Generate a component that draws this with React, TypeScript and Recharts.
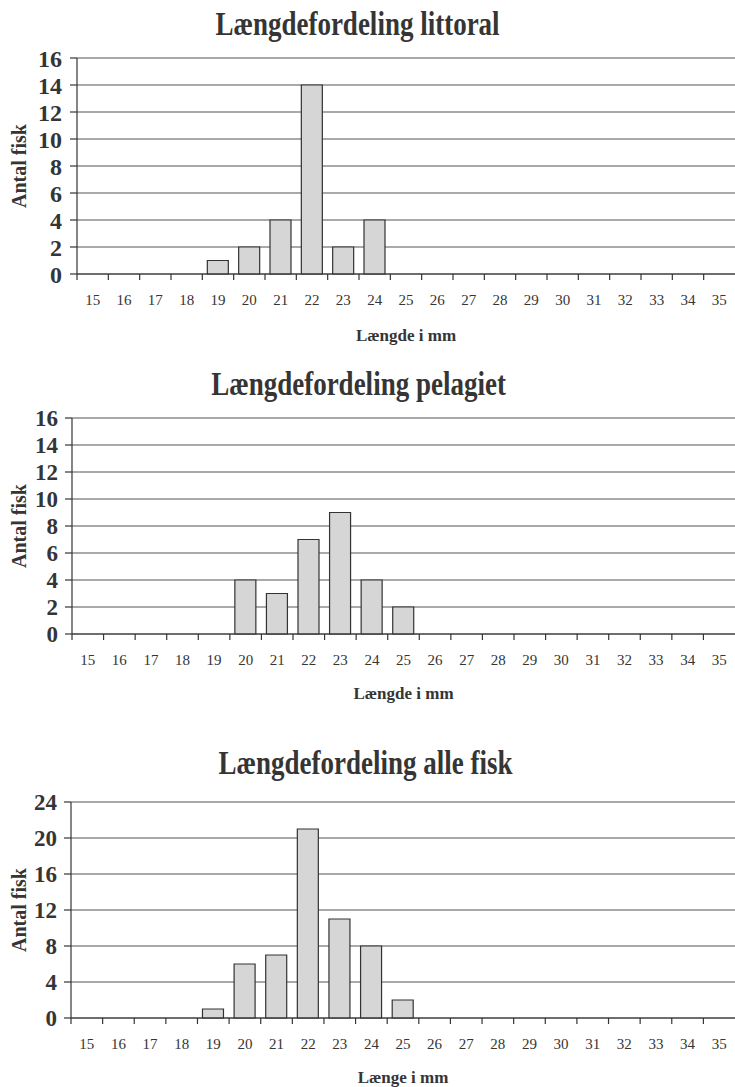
import React from 'react';
import { BarChart, Bar, XAxis, YAxis, CartesianGrid } from 'recharts';

const LENGTHS = ['15', '16', '17', '18', '19', '20', '21', '22', '23', '24', '25', '26', '27', '28', '29', '30', '31', '32', '33', '34', '35'];
const LITTORAL = [0, 0, 0, 0, 1, 2, 4, 14, 2, 4, 0, 0, 0, 0, 0, 0, 0, 0, 0, 0, 0];
const PELAGIET = [0, 0, 0, 0, 0, 4, 3, 7, 9, 4, 2, 0, 0, 0, 0, 0, 0, 0, 0, 0, 0];
const ALLE = [0, 0, 0, 0, 1, 6, 7, 21, 11, 8, 2, 0, 0, 0, 0, 0, 0, 0, 0, 0, 0];
const TICKS_16 = [0, 2, 4, 6, 8, 10, 12, 14, 16];
const TICKS_24 = [0, 4, 8, 12, 16, 20, 24];

const FONT = '"Liberation Serif", "Times New Roman", serif';
const INK = '#353535';
const W = 735;

const XTick = (props: any) => {
  const { x, y, payload, bw } = props;
  const bx = x - bw / 2;
  return (
    <g>
      <line x1={bx} y1={y} x2={bx} y2={y + 6} stroke={INK} strokeWidth={1.2} />
      <text x={x} y={y + 31} textAnchor="middle" fontFamily={FONT} fontSize={15} fill={INK}>
        {payload.value}
      </text>
    </g>
  );
};

type Props = {
  title: string;
  xLabel: string;
  values: number[];
  yTicks: number[];
  top: number;
  left: number;
  titleTop: number;
  titleShift: number;
  yFont: number;
  yTickMargin: number;
  xLabelOffset: number;
};

const FishChart: React.FC<Props> = (p) => {
  const data = LENGTHS.map((len, i) => ({ len, n: p.values[i] }));
  const bw = (W - p.left) / LENGTHS.length;
  return (
    <div style={{ position: 'absolute', top: p.top, left: 0, width: W }}>
      <div
        style={{
          position: 'absolute',
          top: p.titleTop,
          left: p.titleShift,
          width: W,
          textAlign: 'center',
          fontFamily: FONT,
          fontWeight: 'bold',
          fontSize: 27,
          lineHeight: '30px',
          color: INK,
          transform: 'scaleY(1.22)',
        }}
      >
        {p.title}
      </div>
      <BarChart width={W} height={350} data={data} margin={{ top: 58, right: 0, bottom: 10, left: 0 }} barSize={21}>
        <CartesianGrid horizontal vertical={false} stroke="#555" strokeWidth={1.2} />
        <XAxis
          dataKey="len"
          interval={0}
          height={66}
          tickSize={0}
          tickMargin={0}
          tickLine={false}
          axisLine={{ stroke: INK, strokeWidth: 1.2 }}
          tick={(t: any) => <XTick {...t} bw={bw} />}
          label={{
            value: p.xLabel,
            position: 'insideBottom',
            offset: p.xLabelOffset,
            style: { fontFamily: FONT, fontWeight: 'bold', fontSize: 17, fill: INK },
          }}
        />
        <YAxis
          width={p.left}
          domain={[0, p.yTicks[p.yTicks.length - 1]]}
          ticks={p.yTicks}
          interval={0}
          tickSize={7}
          tickMargin={p.yTickMargin}
          axisLine={{ stroke: INK, strokeWidth: 1.2 }}
          tickLine={{ stroke: INK, strokeWidth: 1.2 }}
          tick={{ fontFamily: FONT, fontWeight: 'bold', fontSize: p.yFont, fill: INK }}
          label={{
            value: 'Antal fisk',
            angle: -90,
            position: 'insideLeft',
            offset: 19,
            style: { textAnchor: 'middle', fontFamily: FONT, fontWeight: 'bold', fontSize: 20, fill: INK },
          }}
        />
        <Bar dataKey="n" fill="#d6d6d6" stroke="#333" strokeWidth={1.2} isAnimationActive={false} />
      </BarChart>
    </div>
  );
};

export default function App() {
  return (
    <div style={{ position: 'absolute', top: 0, left: 0, width: W, height: 1087, background: '#fff', overflow: 'hidden' }}>
      <FishChart
        title="Længdefordeling littoral"
        xLabel="Længde i mm"
        values={LITTORAL}
        yTicks={TICKS_16}
        top={0}
        left={77}
        titleTop={9}
        titleShift={-10}
        yFont={24}
        yTickMargin={8}
        xLabelOffset={-1}
      />
      <FishChart
        title="Længdefordeling pelagiet"
        xLabel="Længde i mm"
        values={PELAGIET}
        yTicks={TICKS_16}
        top={360}
        left={72}
        titleTop={9}
        titleShift={-9}
        yFont={23}
        yTickMargin={7}
        xLabelOffset={1}
      />
      <FishChart
        title="Længdefordeling alle fisk"
        xLabel="Længe i mm"
        values={ALLE}
        yTicks={TICKS_24}
        top={744}
        left={71}
        titleTop={4}
        titleShift={-2}
        yFont={23}
        yTickMargin={7}
        xLabelOffset={1}
      />
    </div>
  );
}
